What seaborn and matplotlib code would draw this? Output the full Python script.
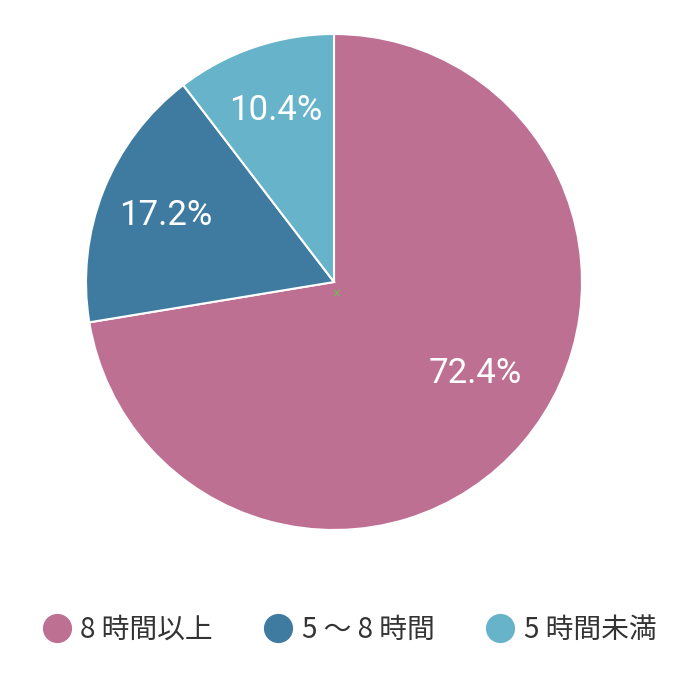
import matplotlib
matplotlib.use('Agg')
import matplotlib.pyplot as plt
import seaborn as sns
from matplotlib.lines import Line2D

sns.set_style('white')
plt.rcParams['font.family'] = ['Noto Sans CJK JP', 'DejaVu Sans']

# data
labels = ['8 時間以上', '5 ～ 8 時間', '5 時間未満']
values = [72.4, 17.2, 10.4]
colors = ['#BE7093', '#3F7BA0', '#66B3CA']

fig = plt.figure(figsize=(6.8, 7.0), dpi=100)
ax = fig.add_axes([86 / 680, 170 / 700, 496 / 680, 496 / 700])

wedges, texts, autotexts = ax.pie(
    values, colors=colors, startangle=90, counterclock=False,
    autopct='%.1f%%', pctdistance=0.73, radius=1.0,
    wedgeprops=dict(edgecolor='white', linewidth=1.5),
    textprops=dict(color='white', fontsize=25, family=['Roboto', 'DejaVu Sans']))
# the big slice label sits a bit higher than its mid-angle
autotexts[0].set_position((0.57, -0.37))
ax.set_xlim(-1, 1)
ax.set_ylim(-1, 1)
ax.set_aspect('equal')
ax.axis('off')

# small green marker at the centre
ax.text(0.01, -0.045, '×', color='#55DD33', fontsize=7, ha='center', va='center')

handles = [Line2D([0], [0], marker='o', linestyle='', markersize=20,
                  markerfacecolor=c, markeredgecolor=c) for c in colors]
fig.legend(handles, labels, loc='center', bbox_to_anchor=(0.515, 1 - 630 / 700),
           ncol=3, frameon=False, fontsize=20, handletextpad=0.4,
           columnspacing=1.9, handlelength=0.9, labelcolor='#333333')

fig.savefig('out.png', dpi=100)
